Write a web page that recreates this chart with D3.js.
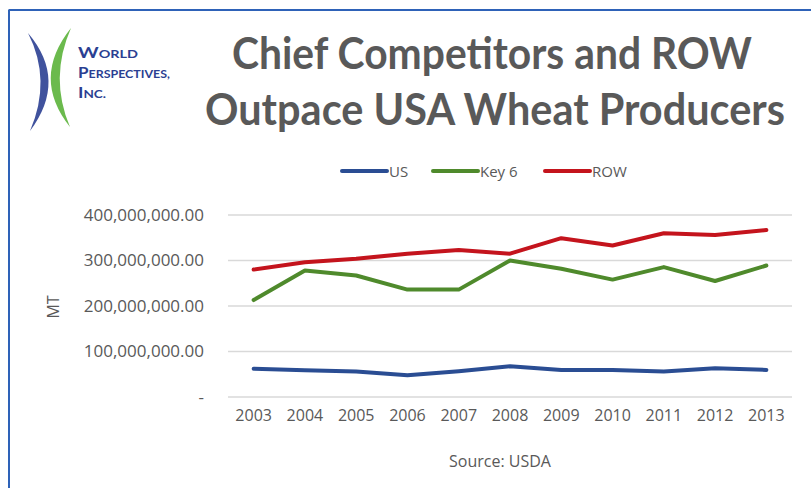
<!DOCTYPE html>
<html><head><meta charset="utf-8">
<script src="https://cdnjs.cloudflare.com/ajax/libs/d3/7.8.5/d3.min.js"></script>
<style>body{margin:0;background:#fff}svg{display:block}</style>
</head><body>
<script>
const years = ["2003","2004","2005","2006","2007","2008","2009","2010","2011","2012","2013"];
const usValues   = [62e6, 59e6, 56e6, 48e6, 56.5e6, 67.5e6, 59.5e6, 59.5e6, 56e6, 63e6, 59.5e6];
const key6Values = [213e6, 278e6, 267e6, 236e6, 236e6, 300e6, 282e6, 258e6, 285.5e6, 255e6, 289e6];
const rowValues  = [280e6, 296e6, 304e6, 315e6, 323e6, 315e6, 349e6, 333e6, 360e6, 356e6, 367e6];
const yTicks = [0, 100e6, 200e6, 300e6, 400e6];
const seriesNames = ["US", "Key 6", "ROW"];
const seriesColors = ["#2A4D93", "#4F8A2C", "#C4141D"];
const titleLines = ["Chief Competitors and ROW", "Outpace USA Wheat Producers"];

const W = 811, H = 488;
const svg = d3.select("body").append("svg").attr("width", W).attr("height", H);
const txt = "#595959";
const font = "'Open Sans', 'DejaVu Sans', sans-serif";

// frame lines
svg.append("line").attr("x1", 8.5).attr("x2", W).attr("y1", 10).attr("y2", 10).attr("stroke", "#2E62B8").attr("stroke-width", 2);
svg.append("line").attr("x1", 9).attr("x2", 9).attr("y1", 10).attr("y2", H).attr("stroke", "#2E62B8").attr("stroke-width", 2);

// logo
const logo = svg.append("g");
logo.append("path").attr("d", "M28,33 Q68,80 30,131 Q52,80 28,33 Z").attr("fill", "#2B3F92").attr("opacity", 0.9);
logo.append("path").attr("d", "M71,28 Q31,78 70,127 Q49,78 71,28 Z").attr("fill", "#5BB33A").attr("opacity", 0.9);
const logoFont = "Lato, 'DejaVu Sans', sans-serif";
const logoLines = [["W","ORLD", 60], ["P","ERSPECTIVES,", 92], ["I","NC.", 28]];
logoLines.forEach((l, i) => {
  const t = logo.append("text").attr("x", 78).attr("y", 58 + i * 20).attr("fill", "#2B3F92")
    .attr("font-family", logoFont).attr("font-weight", "bold")
    .attr("textLength", l[2]).attr("lengthAdjust", "spacingAndGlyphs");
  t.append("tspan").attr("font-size", 15).text(l[0]);
  t.append("tspan").attr("font-size", 11).text(l[1]);
});

// title
const titleFont = "Lato, 'Open Sans', sans-serif";
const tl = [[492, 69, 520], [495, 125, 580]];
titleLines.forEach((s, i) => {
  svg.append("text").attr("x", tl[i][0]).attr("y", tl[i][1]).attr("text-anchor", "middle")
    .attr("font-family", titleFont).attr("font-weight", "bold").attr("font-size", 43)
    .attr("fill", "#595959").attr("textLength", tl[i][2]).attr("lengthAdjust", "spacingAndGlyphs").text(s);
});

// scales
const x = d3.scaleBand().domain(years).range([228, 792]).padding(0);
const y = d3.scaleLinear().domain([0, 400e6]).range([397, 215]);

// gridlines
svg.append("g").selectAll("line").data(yTicks).join("line")
  .attr("x1", 228).attr("x2", 792).attr("y1", d => y(d)).attr("y2", d => y(d))
  .attr("stroke", "#D9D9D9").attr("stroke-width", 1.5);

// y axis
const yAxis = d3.axisLeft(y).tickValues(yTicks).tickSize(0).tickPadding(0)
  .tickFormat(d => d === 0 ? "-" : d3.format(",.2f")(d));
const yg = svg.append("g").attr("transform", "translate(204,0)").call(yAxis);
yg.select(".domain").remove();
yg.selectAll("text").attr("font-family", font).attr("font-size", 17).attr("fill", txt);

// x axis
const xAxis = d3.axisBottom(x).tickSize(0).tickPadding(0);
const xg = svg.append("g").attr("transform", "translate(0,410)").call(xAxis);
xg.select(".domain").remove();
xg.selectAll("text").attr("font-family", font).attr("font-size", 16).attr("fill", txt);

// axis titles
svg.append("text").attr("transform", "translate(59,307) rotate(-90)").attr("text-anchor", "middle")
  .attr("font-family", font).attr("font-size", 16).attr("fill", txt).text("MT");
svg.append("text").attr("x", 500).attr("y", 467).attr("text-anchor", "middle")
  .attr("font-family", font).attr("font-size", 16).attr("fill", txt).text("Source: USDA");

// lines
const allSeries = [usValues, key6Values, rowValues];
const line = d3.line().x((d, i) => x(years[i]) + x.bandwidth() / 2).y(d => y(d));
allSeries.forEach((vals, k) => {
  svg.append("path").datum(vals).attr("d", line).attr("fill", "none")
    .attr("stroke", seriesColors[k]).attr("stroke-width", 4).attr("stroke-linejoin", "round").attr("stroke-linecap", "round");
});

// legend
const legX = [342, 433, 545];
seriesNames.forEach((n, k) => {
  const g = svg.append("g").attr("transform", `translate(${legX[k]},171)`);
  g.append("line").attr("x1", 0).attr("x2", 45).attr("stroke", seriesColors[k]).attr("stroke-width", 4).attr("stroke-linecap", "round");
  g.append("text").attr("x", 47).attr("y", 5.5).attr("font-family", font).attr("font-size", 15).attr("fill", txt).text(n);
});
</script>
</body></html>
